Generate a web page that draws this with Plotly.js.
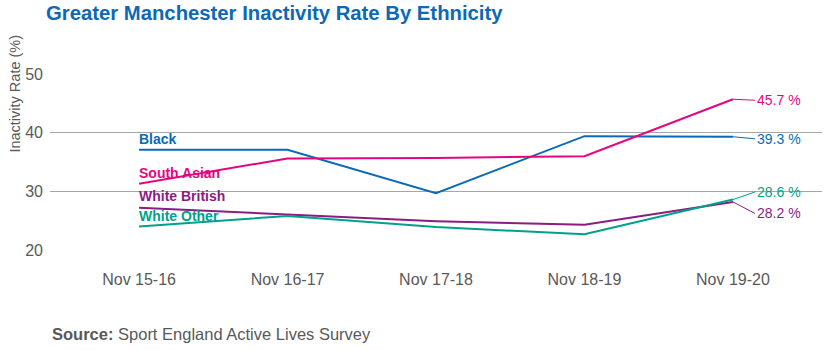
<!DOCTYPE html>
<html>
<head>
<meta charset="utf-8">
<script src="https://cdn.plot.ly/plotly-3.0.1.min.js"></script>
<style>html,body{margin:0;padding:0;background:#fff;}#chart{width:829px;height:350px;}</style>
</head>
<body>
<div id="chart"></div>
<script>
// ---- Data ----
const categories = ['Nov 15-16', 'Nov 16-17', 'Nov 17-18', 'Nov 18-19', 'Nov 19-20'];
const seriesNames = ['Black', 'South Asian', 'White British', 'White Other'];
const black = [37.1, 37.1, 29.7, 39.4, 39.3];
const southAsian = [31.3, 35.6, 35.7, 36.0, 45.7];
const whiteBritish = [27.2, 26.1, 24.9, 24.3, 28.2];
const whiteOther = [24.0, 25.8, 23.9, 22.7, 28.6];
const yTicks = [20, 30, 40, 50];

// ---- Styles ----
const colors = ['#0b6ab6', '#e5067f', '#8a1c83', '#00a08a'];
const seriesData = [black, southAsian, whiteBritish, whiteOther];
const nameShift = [10.5, 10.5, 11.5, 11];
const endAy = [2, 1, 11.5, -7.5];
const FONT = 'Liberation Sans, Arial, sans-serif';
const GREY = '#595959';

const traces = seriesData.map((vals, i) => ({
  type: 'scatter', mode: 'lines', x: categories, y: vals,
  name: seriesNames[i], line: {color: colors[i], width: 2}, hoverinfo: 'skip'
}));

const annotations = [];
seriesData.forEach((vals, i) => {
  annotations.push({
    x: categories[0], y: vals[0], xref: 'x', yref: 'y',
    text: '<b>' + seriesNames[i] + '</b>', showarrow: false,
    xanchor: 'left', yanchor: 'middle', xshift: -2, yshift: nameShift[i],
    font: {family: FONT, size: 14, color: colors[i]}
  });
  const last = vals[vals.length - 1];
  annotations.push({
    x: categories[categories.length - 1], y: last, xref: 'x', yref: 'y',
    text: last.toFixed(1) + ' %', showarrow: true, arrowhead: 0, arrowwidth: 1,
    arrowcolor: colors[i], ax: 22, ay: endAy[i], standoff: 0,
    xanchor: 'left', yanchor: 'middle',
    font: {family: FONT, size: 14, color: colors[i]}
  });
});

annotations.push({
  xref: 'paper', yref: 'paper', x: -0.0453, y: 0.889, textangle: -90,
  text: 'Inactivity Rate (%)', showarrow: false, xanchor: 'center', yanchor: 'middle',
  font: {family: FONT, size: 14.5, color: GREY}
});
annotations.push({
  xref: 'paper', yref: 'paper', x: 0, y: -0.477,
  text: '<b>Source:</b> Sport England Active Lives Survey', showarrow: false,
  xanchor: 'left', yanchor: 'middle',
  font: {family: FONT, size: 16.5, color: GREY}
});

const layout = {
  width: 829, height: 350,
  margin: {l: 50, r: 7, t: 74, b: 100},
  paper_bgcolor: '#ffffff', plot_bgcolor: '#ffffff',
  showlegend: false,
  title: {
    text: '<b>Greater Manchester Inactivity Rate By Ethnicity</b>',
    xref: 'container', yref: 'container', x: 0.0555, xanchor: 'left',
    y: 0.962, yanchor: 'middle',
    font: {family: FONT, size: 20.3, color: '#0d69b5'}
  },
  xaxis: {
    type: 'category', range: [-0.6, 4.6], showgrid: false, zeroline: false,
    showline: false, ticks: '', ticklabelstandoff: 18,
    tickfont: {family: FONT, size: 16, color: GREY}, fixedrange: true
  },
  yaxis: {
    range: [20, 50], tickvals: yTicks, showgrid: true, gridcolor: '#a6a6a6', gridwidth: 1.2,
    zeroline: false, showline: false, ticks: '', ticklabelstandoff: 6,
    tickfont: {family: FONT, size: 16, color: GREY}, fixedrange: true
  },
  annotations: annotations
};

Plotly.newPlot('chart', traces, layout, {staticPlot: true, displayModeBar: false});
</script>
</body>
</html>
